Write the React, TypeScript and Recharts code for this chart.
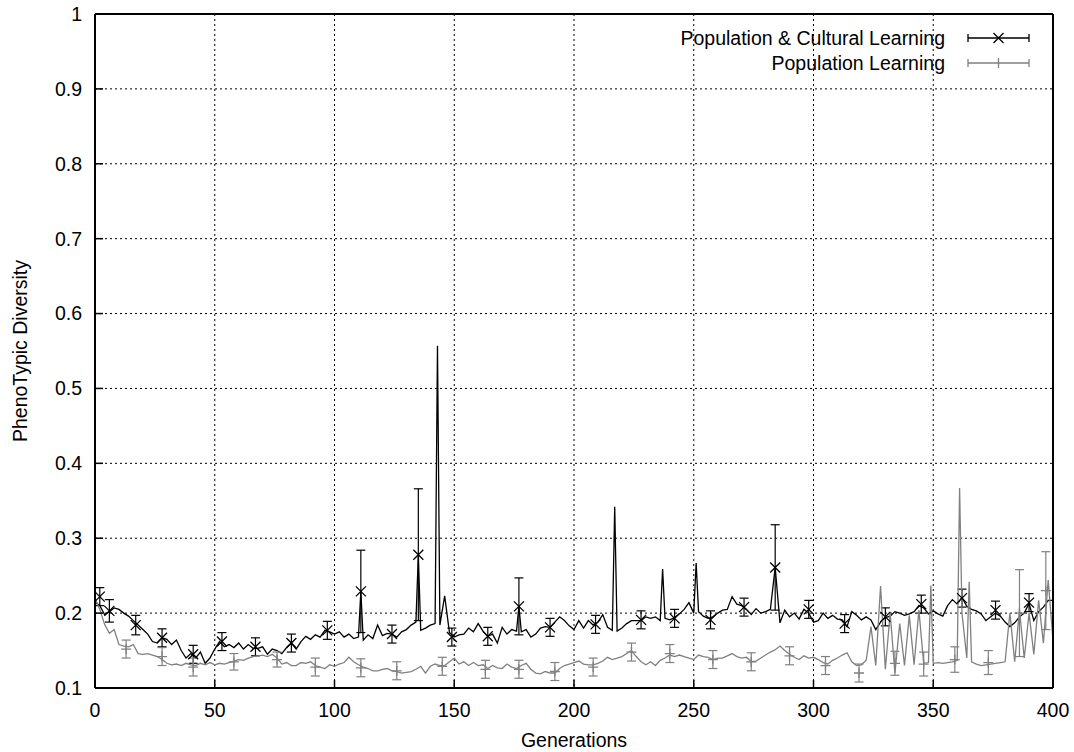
import {
  CartesianGrid,
  ComposedChart,
  ErrorBar,
  Legend,
  Line,
  Scatter,
  XAxis,
  YAxis,
} from 'recharts'

const W = 1074
const H = 752
const FONT = '"Liberation Sans", Arial, Helvetica, sans-serif'
const BLACK = '#000000'
const GREY = '#808080'

// axis ticks
const xTicks = [0, 50, 100, 150, 200, 250, 300, 350, 400]
const yTicks = [0.1, 0.2, 0.3, 0.4, 0.5, 0.6, 0.7, 0.8, 0.9, 1]

// the curves are read every 2 generations (0, 2, 4 ... 400)
const STEP = 2

// Population & Cultural Learning
const cultBase = [
  0.215, 0.21, 0.198, 0.202, 0.207, 0.205, 0.2, 0.196, 0.19, 0.184,
  0.178, 0.172, 0.162, 0.16, 0.167, 0.165, 0.158, 0.164, 0.15, 0.14,
  0.146, 0.14, 0.148, 0.133, 0.14, 0.152, 0.162, 0.155, 0.158, 0.154,
  0.16, 0.152, 0.158, 0.153, 0.153, 0.155, 0.145, 0.152, 0.15, 0.146,
  0.154, 0.16, 0.152, 0.162, 0.169, 0.165, 0.171, 0.168, 0.177, 0.175,
  0.172, 0.175, 0.168, 0.172, 0.166, 0.168, 0.164, 0.171, 0.166, 0.184,
  0.17, 0.173, 0.172, 0.168, 0.175, 0.178, 0.184, 0.188, 0.177, 0.18,
  0.184, 0.186, 0.184, 0.182, 0.174, 0.168, 0.171, 0.172, 0.18, 0.175,
  0.186, 0.176, 0.169, 0.172, 0.16, 0.181, 0.172, 0.178, 0.176, 0.175,
  0.178, 0.168, 0.172, 0.18, 0.182, 0.181, 0.188, 0.195, 0.19, 0.183,
  0.178, 0.19, 0.18, 0.19, 0.184, 0.188, 0.198, 0.181, 0.177, 0.176,
  0.18, 0.186, 0.19, 0.19, 0.19, 0.195, 0.193, 0.195, 0.19, 0.193,
  0.191, 0.194, 0.199, 0.205, 0.214, 0.2, 0.202, 0.196, 0.193, 0.195,
  0.2, 0.204, 0.205, 0.222, 0.212, 0.21, 0.205, 0.198, 0.206, 0.2,
  0.202, 0.205, 0.205, 0.187, 0.204, 0.195, 0.2, 0.192, 0.205, 0.2,
  0.188, 0.19, 0.2, 0.193, 0.197, 0.192, 0.191, 0.182, 0.202, 0.197,
  0.191, 0.195, 0.191, 0.178, 0.188, 0.194, 0.196, 0.202, 0.2, 0.197,
  0.199, 0.202, 0.21, 0.207, 0.199, 0.203, 0.199, 0.196, 0.21, 0.218,
  0.212, 0.221, 0.209, 0.205, 0.203, 0.199, 0.19, 0.195, 0.2, 0.196,
  0.188, 0.182, 0.187, 0.195, 0.2, 0.213, 0.19, 0.202, 0.208, 0.217,
  0.217,
]
// single-generation peaks [generation, value]
const cultSpikes: [number, number][] = [
  [111, 0.229], [135, 0.278], [143, 0.557], [146, 0.223], [177, 0.209],
  [217, 0.342], [237, 0.259], [251, 0.267], [284, 0.261],
]
// points with error bars [generation, value, error]
const cultMarks: [number, number, number][] = [
  [2, 0.222, 0.012], [6, 0.203, 0.015], [17, 0.184, 0.013], [28, 0.167, 0.012],
  [41, 0.145, 0.012], [53, 0.162, 0.012], [67, 0.155, 0.012], [82, 0.16, 0.012],
  [97, 0.177, 0.012], [111, 0.229, 0.055], [124, 0.172, 0.012], [135, 0.278, 0.088],
  [149, 0.168, 0.012], [164, 0.169, 0.012], [177, 0.209, 0.038], [190, 0.181, 0.012],
  [209, 0.185, 0.012], [228, 0.191, 0.012], [242, 0.193, 0.012], [257, 0.191, 0.012],
  [271, 0.208, 0.012], [284, 0.261, 0.057], [298, 0.205, 0.012], [313, 0.186, 0.012],
  [330, 0.195, 0.012], [345, 0.212, 0.012], [362, 0.22, 0.012], [376, 0.204, 0.012],
  [390, 0.214, 0.012],
]

// Population Learning
const popBase = [
  0.22, 0.205, 0.185, 0.173, 0.178, 0.158, 0.156, 0.155, 0.158, 0.146,
  0.145, 0.146, 0.144, 0.142, 0.138, 0.133, 0.131, 0.132, 0.13, 0.133,
  0.131, 0.13, 0.133, 0.131, 0.134, 0.131, 0.133, 0.132, 0.134, 0.136,
  0.138, 0.137, 0.14, 0.142, 0.143, 0.144, 0.142, 0.145, 0.14, 0.132,
  0.134, 0.13, 0.13, 0.134, 0.133, 0.135, 0.13, 0.128, 0.126, 0.131,
  0.129, 0.132, 0.134, 0.141, 0.135, 0.131, 0.128, 0.126, 0.123, 0.123,
  0.125, 0.126, 0.123, 0.122, 0.12, 0.121, 0.122, 0.125, 0.129, 0.12,
  0.129, 0.132, 0.13, 0.13, 0.135, 0.14, 0.132, 0.135, 0.13, 0.134,
  0.13, 0.131, 0.126, 0.13, 0.127, 0.126, 0.132, 0.128, 0.126, 0.13,
  0.133, 0.125, 0.12, 0.119, 0.122, 0.12, 0.12, 0.126, 0.13, 0.132,
  0.134, 0.136, 0.132, 0.131, 0.131, 0.133, 0.136, 0.141, 0.138, 0.14,
  0.142, 0.146, 0.15, 0.142, 0.135, 0.131, 0.135, 0.13, 0.137, 0.14,
  0.144, 0.142, 0.144, 0.142, 0.14, 0.138, 0.144, 0.142, 0.141, 0.138,
  0.14, 0.14, 0.143, 0.146, 0.142, 0.14, 0.141, 0.135, 0.136, 0.14,
  0.144, 0.148, 0.151, 0.156, 0.15, 0.145, 0.141, 0.138, 0.143, 0.14,
  0.141, 0.138, 0.134, 0.132, 0.137, 0.14, 0.144, 0.147, 0.135, 0.13,
  0.131, 0.137, 0.182, 0.13, 0.13, 0.125, 0.2, 0.12, 0.186, 0.13,
  0.197, 0.131, 0.204, 0.133, 0.134, 0.133, 0.134, 0.133, 0.134, 0.135,
  0.137, 0.2, 0.14, 0.135, 0.132, 0.13, 0.131, 0.132, 0.133, 0.134,
  0.135, 0.2, 0.135, 0.204, 0.14, 0.2, 0.145, 0.217, 0.16, 0.244,
  0.164,
]
const popSpikes: [number, number][] = [
  [328, 0.236], [349, 0.237], [361, 0.367], [365, 0.242],
]
const popMarks: [number, number, number][] = [
  [13, 0.152, 0.012], [28, 0.142, 0.012], [41, 0.128, 0.012], [58, 0.135, 0.011],
  [76, 0.138, 0.01], [92, 0.128, 0.012], [111, 0.127, 0.012], [126, 0.123, 0.012],
  [145, 0.129, 0.012], [163, 0.125, 0.012], [177, 0.125, 0.012], [192, 0.122, 0.012],
  [208, 0.128, 0.012], [224, 0.148, 0.012], [240, 0.146, 0.012], [258, 0.138, 0.012],
  [274, 0.135, 0.012], [290, 0.143, 0.012], [305, 0.13, 0.012], [319, 0.12, 0.012],
  [334, 0.133, 0.016], [346, 0.132, 0.016], [359, 0.138, 0.017], [373, 0.134, 0.016],
  [386, 0.2, 0.058], [397, 0.23, 0.052],
]

function buildLine(base: number[], spikes: [number, number][]) {
  const pts = base.map((v, i) => ({ gen: i * STEP, v }))
  spikes.forEach(([gen, v]) => {
    const hit = pts.find((p) => p.gen === gen)
    if (hit) hit.v = v
    else pts.push({ gen, v })
  })
  return pts.sort((a, b) => a.gen - b.gen)
}

const cultData = buildLine(cultBase, cultSpikes)
const popData = buildLine(popBase, popSpikes)
const cultMarkData = cultMarks.map(([gen, v, e]) => ({ gen, v, e }))
const popMarkData = popMarks.map(([gen, v, e]) => ({ gen, v, e }))

const legendItems = [
  { name: 'Population & Cultural Learning', color: BLACK, marker: 'x' },
  { name: 'Population Learning', color: GREY, marker: '+' },
]

function CrossX(props: any) {
  const { cx, cy } = props
  if (cx == null || cy == null) return null
  const s = 5
  return (
    <path
      d={`M${cx - s},${cy - s}L${cx + s},${cy + s}M${cx - s},${cy + s}L${cx + s},${cy - s}`}
      stroke={BLACK}
      strokeWidth={1.3}
      fill="none"
    />
  )
}

function CrossPlus(props: any) {
  const { cx, cy } = props
  if (cx == null || cy == null) return null
  const s = 5
  return (
    <path
      d={`M${cx - s},${cy}L${cx + s},${cy}M${cx},${cy - s}L${cx},${cy + s}`}
      stroke={GREY}
      strokeWidth={1.3}
      fill="none"
    />
  )
}

function GnuLegend() {
  const x1 = 968
  const x2 = 1029
  const xm = (x1 + x2) / 2
  return (
    <svg width={W} height={90} style={{ display: 'block' }}>
      {legendItems.map((item, i) => {
        const y = 38 + i * 25
        const s = 5
        return (
          <g key={item.name}>
            <text
              x={945}
              y={y + 7}
              textAnchor="end"
              fontFamily={FONT}
              fontSize={19.5}
              fill={BLACK}
            >
              {item.name}
            </text>
            <path
              d={`M${x1},${y}L${x2},${y}M${x1},${y - 4}L${x1},${y + 4}M${x2},${y - 4}L${x2},${y + 4}`}
              stroke={item.color}
              strokeWidth={1.3}
              fill="none"
            />
            <path
              d={
                item.marker === 'x'
                  ? `M${xm - s},${y - s}L${xm + s},${y + s}M${xm - s},${y + s}L${xm + s},${y - s}`
                  : `M${xm},${y - s}L${xm},${y + s}`
              }
              stroke={item.color}
              strokeWidth={1.3}
              fill="none"
            />
          </g>
        )
      })}
    </svg>
  )
}

const tickStyle = { fill: BLACK, fontSize: 19.5, fontFamily: FONT }
const axisLineStyle = { stroke: BLACK, strokeWidth: 2 }
const tickLineStyle = { stroke: BLACK, strokeWidth: 1.5 }

export default function App() {
  return (
    <div
      style={{
        position: 'absolute',
        left: 0,
        top: 0,
        width: W,
        height: H,
        background: '#fff',
      }}
    >
      <ComposedChart
        width={W}
        height={H}
        margin={{ top: 13, right: 20, bottom: 63, left: 94 }}
      >
        <CartesianGrid stroke={BLACK} strokeDasharray="2 3" strokeWidth={1} />
        <XAxis
          dataKey="gen"
          type="number"
          domain={[0, 400]}
          ticks={xTicks}
          interval={0}
          height={1}
          tickSize={-8}
          tickMargin={23}
          tick={tickStyle}
          tickLine={tickLineStyle}
          axisLine={axisLineStyle}
          label={{
            content: () => (
              <text
                x={574}
                y={747}
                textAnchor="middle"
                fontFamily={FONT}
                fontSize={19.5}
                fill={BLACK}
              >
                Generations
              </text>
            ),
          }}
        />
        <XAxis
          xAxisId="top"
          orientation="top"
          type="number"
          domain={[0, 400]}
          ticks={xTicks}
          interval={0}
          height={1}
          tickSize={-8}
          tick={false}
          tickLine={tickLineStyle}
          axisLine={axisLineStyle}
        />
        <YAxis
          type="number"
          domain={[0.1, 1]}
          ticks={yTicks}
          interval={0}
          width={1}
          tickSize={-8}
          tickMargin={21}
          tick={tickStyle}
          tickLine={tickLineStyle}
          axisLine={axisLineStyle}
          tickFormatter={(v: number) => (v === 1 ? '1' : v.toFixed(1))}
          label={{
            content: () => (
              <text
                x={27}
                y={351}
                transform="rotate(-90 27 351)"
                textAnchor="middle"
                fontFamily={FONT}
                fontSize={19.5}
                fill={BLACK}
              >
                PhenoTypic Diversity
              </text>
            ),
          }}
        />
        <YAxis
          yAxisId="right"
          orientation="right"
          type="number"
          domain={[0.1, 1]}
          ticks={yTicks}
          interval={0}
          width={1}
          tickSize={-8}
          tick={false}
          tickLine={tickLineStyle}
          axisLine={axisLineStyle}
        />
        <Legend
          layout="horizontal"
          verticalAlign="middle"
          content={() => <GnuLegend />}
          wrapperStyle={{ position: 'absolute', left: 0, top: 0, width: W, height: 90 }}
        />
        <Line
          data={cultData}
          dataKey="v"
          type="linear"
          stroke={BLACK}
          strokeWidth={1.3}
          dot={false}
          activeDot={false}
          isAnimationActive={false}
        />
        <Scatter
          data={cultMarkData}
          dataKey="v"
          shape={CrossX}
          isAnimationActive={false}
        >
          <ErrorBar
            dataKey="e"
            direction="y"
            width={4.5}
            stroke={BLACK}
            strokeWidth={1.2}
            isAnimationActive={false}
          />
        </Scatter>
        <Line
          data={popData}
          dataKey="v"
          type="linear"
          stroke={GREY}
          strokeWidth={1.3}
          dot={false}
          activeDot={false}
          isAnimationActive={false}
        />
        <Scatter
          data={popMarkData}
          dataKey="v"
          shape={CrossPlus}
          isAnimationActive={false}
        >
          <ErrorBar
            dataKey="e"
            direction="y"
            width={4.5}
            stroke={GREY}
            strokeWidth={1.2}
            isAnimationActive={false}
          />
        </Scatter>
      </ComposedChart>
    </div>
  )
}
